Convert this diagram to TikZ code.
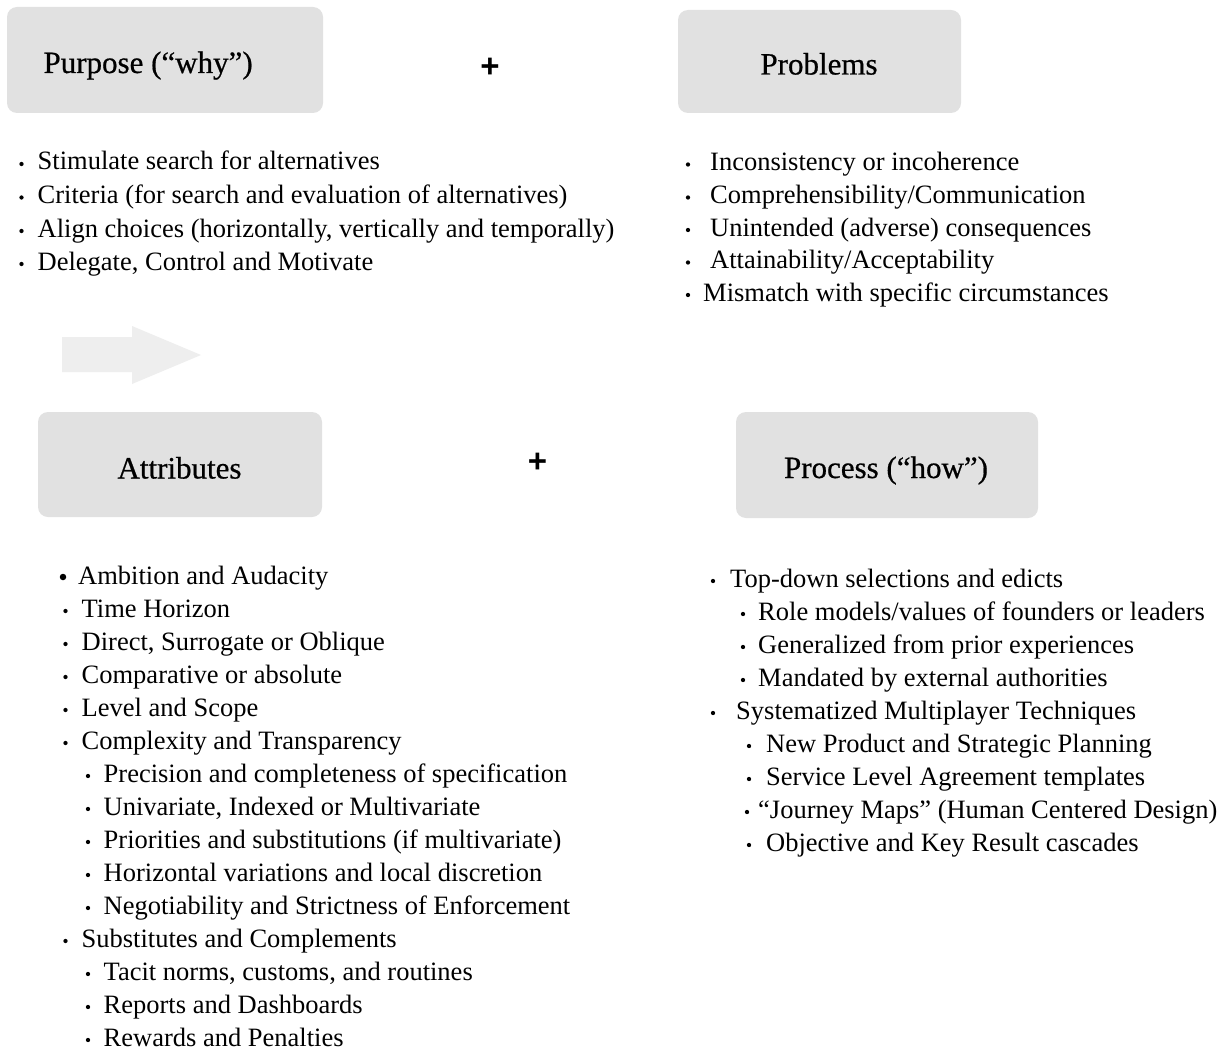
\documentclass[tikz,border=0pt]{standalone}
\usepackage{fontspec}
\setmainfont{Liberation Serif}
\newfontfamily\plusfamily{Liberation Sans}
\newfontfamily\titlefamily[FakeBold=0.6]{Liberation Serif}
\definecolor{boxgray}{HTML}{E1E1E1}
\definecolor{arrowgray}{HTML}{EEEEEE}
\newcommand\itemfont{\fontsize{26.5}{31}\selectfont}
\newcommand\titlefont{\titlefamily\fontsize{31}{37}\selectfont}
\tikzset{
  headbox/.style={rectangle, rounded corners=10pt, fill=boxgray, draw=none, inner sep=0pt},
  titletext/.style={anchor=base, inner sep=0pt, font=\titlefont},
  itemtext/.style={anchor=base west, inner sep=0pt, font=\itemfont},
  bulletdot/.style={circle, fill=black, inner sep=0pt, minimum size=4.3pt},
  bigdot/.style={circle, fill=black, inner sep=0pt, minimum size=6.5pt},
  plussign/.style={inner sep=0pt, font=\plusfamily\bfseries\fontsize{33}{33}\selectfont},
}
\newcommand\itm[5]{%
  \node[bulletdot] (#1b) at (#2,#4-6) {};
  \node[itemtext] (#1) at (#3,#4) {#5};}
\begin{document}
\begin{tikzpicture}[x=1pt,y=-1pt]
\useasboundingbox (0,0) rectangle (1230,1051);
\fill[white] (0,0) rectangle (1230,1051);

% header boxes
\node[headbox, minimum width=316pt, minimum height=106pt] (purposebox) at (165,60) {};
\node[headbox, minimum width=283pt, minimum height=103pt] (problemsbox) at (819.5,61.5) {};
\node[headbox, minimum width=284pt, minimum height=105pt] (attribbox) at (180,464.5) {};
\node[headbox, minimum width=302pt, minimum height=106pt] (processbox) at (887,465) {};

% titles
\node[titletext, anchor=base west] (purposetitle) at (43.3,73) {Purpose (“why”)};
\node[titletext] (problemstitle) at (819,74.5) {Problems};
\node[titletext] (attribtitle) at (179.5,478.5) {Attributes};
\node[titletext] (processtitle) at (886,478) {Process (“how”)};

% plus signs
\node[plussign] (plus1) at (490,68) {+};
\node[plussign] (plus2) at (537.5,463) {+};

% light arrow
\fill[arrowgray] (62,337) -- (132,337) -- (132,326) -- (201,355) -- (132,384) -- (132,372) -- (62,372) -- cycle;

% Purpose list
\itm{pu1}{21.5}{37.5}{170}{Stimulate search for alternatives}
\itm{pu2}{21.5}{37.5}{203.5}{Criteria (for search and evaluation of alternatives)}
\itm{pu3}{21.5}{37.5}{237}{Align choices (horizontally, vertically and temporally)}
\itm{pu4}{21.5}{37.5}{270}{Delegate, Control and Motivate}

% Problems list
\itm{pr1}{688}{710}{170.5}{Inconsistency or incoherence}
\itm{pr2}{688}{710}{203.5}{Comprehensibility/Communication}
\itm{pr3}{688}{710}{236}{Unintended (adverse) consequences}
\itm{pr4}{688}{710}{268.5}{Attainability/Acceptability}
\itm{pr5}{688}{703}{301}{Mismatch with specific circumstances}

% Attributes list
\node[bigdot] (at1b) at (63,584-7) {};
\node[itemtext] (at1) at (78,584) {Ambition and Audacity};
\itm{at2}{65.5}{81.5}{617}{Time Horizon}
\itm{at3}{65.5}{81.5}{650}{Direct, Surrogate or Oblique}
\itm{at4}{65.5}{81.5}{683}{Comparative or absolute}
\itm{at5}{65.5}{81.5}{716}{Level and Scope}
\itm{at6}{65.5}{81.5}{749}{Complexity and Transparency}
\itm{at7}{88}{103.5}{782}{Precision and completeness of specification}
\itm{at8}{88}{103.5}{815}{Univariate, Indexed or Multivariate}
\itm{at9}{88}{103.5}{848}{Priorities and substitutions (if multivariate)}
\itm{at10}{88}{103.5}{881}{Horizontal variations and local discretion}
\itm{at11}{88}{103.5}{914}{Negotiability and Strictness of Enforcement}
\itm{at12}{65.5}{81.5}{947}{Substitutes and Complements}
\itm{at13}{88}{103.5}{980}{Tacit norms, customs, and routines}
\itm{at14}{88}{103.5}{1013}{Reports and Dashboards}
\itm{at15}{88}{103.5}{1046}{Rewards and Penalties}

% Process list
\itm{pc1}{713}{730}{587}{Top-down selections and edicts}
\itm{pc2}{743}{758}{620}{Role models/values of founders or leaders}
\itm{pc3}{743}{758}{653}{Generalized from prior experiences}
\itm{pc4}{743}{758}{686}{Mandated by external authorities}
\itm{pc5}{713}{736}{719}{Systematized Multiplayer Techniques}
\itm{pc6}{749}{766}{752}{New Product and Strategic Planning}
\itm{pc7}{749}{766}{785}{Service Level Agreement templates}
\itm{pc8}{747}{758}{818}{“Journey Maps” (Human Centered Design)}
\itm{pc9}{749}{766}{851}{Objective and Key Result cascades}
\end{tikzpicture}
\end{document}
